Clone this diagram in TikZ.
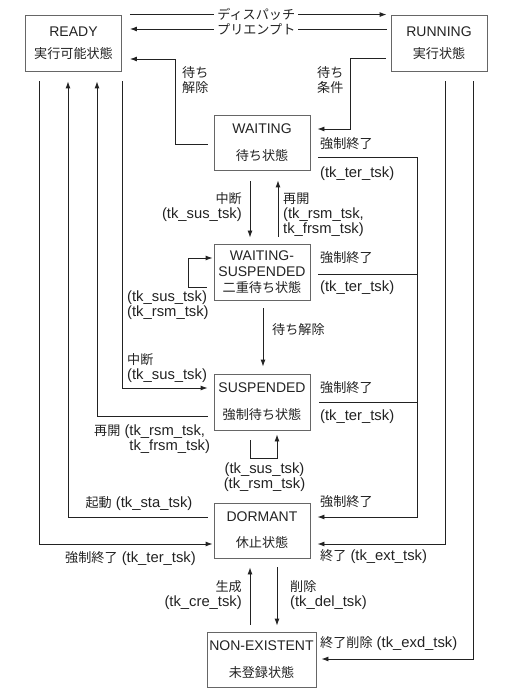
\documentclass[tikz,border=0pt]{standalone}
\usepackage{fontspec}
\setmainfont{Liberation Sans}
\newfontfamily\jpfont{Noto Sans CJK JP}
\usetikzlibrary{arrows.meta}
\newcommand\jt[1]{{\jpfont\fontsize{13.1}{15}\selectfont #1}}
\definecolor{boxgray}{HTML}{666666}
\definecolor{lncol}{HTML}{222222}
\definecolor{txt}{HTML}{222222}

\begin{document}
\begin{tikzpicture}[x=1pt,y=-1pt,
  font=\fontsize{14.8}{15}\selectfont,
  state/.style={draw=boxgray, line width=0.9pt, minimum width=96pt,
    minimum height=56pt, align=center, inner sep=0pt, text=txt,
    font=\fontsize{14}{15}\selectfont},
  ln/.style={draw=lncol, line width=0.9pt},
  arr/.style={ln, -{Latex[length=7pt,width=5pt]}},
  lab/.style={text=txt, inner sep=0pt, align=left},
  labr/.style={text=txt, inner sep=0pt, align=right},
  onln/.style={text=txt, fill=white, inner xsep=3pt, inner ysep=0pt},
]
\useasboundingbox (0,0) rectangle (521,700);

% ---- states ----
\node[state] (ready)   at (73.5,43)  {READY\\[7pt]\jt{実行可能状態}};
\node[state] (running) at (439,43)   {RUNNING\\[7pt]\jt{実行状態}};
\node[state, minimum height=55pt] (waiting) at (262,142.5) {WAITING\\[12pt]\jt{待ち状態}};
\node[state] (wsusp)   at (262,272)  {WAITING-\\[1pt]SUSPENDED\\[1pt]\jt{二重待ち状態}};
\node[state] (susp)    at (262,402)  {SUSPENDED\\[12pt]\jt{強制待ち状態}};
\node[state, minimum height=55pt] (dormant) at (262,530.5) {DORMANT\\[11pt]\jt{休止状態}};
\node[state, minimum width=109pt, minimum height=55pt] (nonex) at (261.5,659.5) {NON-EXISTENT\\[12pt]\jt{未登録状態}};

% ---- READY <-> RUNNING ----
\draw[arr, shorten <=8pt, shorten >=4pt] (ready.north east) --
  node[onln] (lbdisp) {\jt{ディスパッチ}} (running.north west);
\draw[arr, shorten <=4pt, shorten >=8pt] (running.west |- 0,29) --
  node[onln] (lbpre) {\jt{プリエンプト}} (ready.east |- 0,29);

% ---- WAITING -> READY, RUNNING -> WAITING ----
\draw[arr, shorten <=6pt, shorten >=8pt] (waiting.west |- 0,144) -- (175,144) -- (175,59) -- (ready.east |- 0,59);
\node[lab, anchor=west] (lbrel) at (182,80) {\jt{待ち}\\\jt{解除}};
\draw[arr, shorten <=5pt, shorten >=7pt] (running.west |- 0,58) -- (350,58) -- (350,129) -- (waiting.east |- 0,129);
\node[lab, anchor=west] (lbcond) at (317,80) {\jt{待ち}\\\jt{条件}};

% ---- WAITING <-> WAITING-SUSPENDED ----
\draw[arr, shorten <=11pt, shorten >=6pt] (waiting.south -| 250,0) -- (wsusp.north -| 250,0);
\draw[arr, shorten <=7pt, shorten >=10pt] (wsusp.north -| 278,0) -- (waiting.south -| 278,0);
\node[labr, anchor=east] (lbsus1) at (242,207.5) {\jt{中断}\\(tk\_sus\_tsk)};
\node[lab, anchor=west] (lbrsm1) at (283,215) {\jt{再開}\\(tk\_rsm\_tsk,\\tk\_frsm\_tsk)};

% ---- WAITING-SUSPENDED self loop ----
\draw[arr, shorten <=7pt, shorten >=1pt] (wsusp.west |- 0,287) -- (188,287) -- (188,258) -- (wsusp.west |- 0,258);
\node[lab, anchor=west] (lbloop1) at (127,305) {(tk\_sus\_tsk)\\(tk\_rsm\_tsk)};

% ---- WAITING-SUSPENDED -> SUSPENDED ----
\draw[arr, shorten <=8pt, shorten >=7pt] (wsusp.south -| 263,0) -- (susp.north -| 263,0);
\node[lab, anchor=west] (lbwrel) at (272,330) {\jt{待ち解除}};

% ---- SUSPENDED self loop ----
\draw[arr, shorten <=10pt, shorten >=4pt] (susp.south -| 250,0) -- (250,458) -- (277,458) -- (susp.south -| 277,0);
\node[text=txt, inner sep=0pt, align=center] (lbloop2) at (264.5,477.5) {(tk\_sus\_tsk)\\(tk\_rsm\_tsk)};

% ---- READY column connectors ----
\draw[arr, shorten <=10pt, shorten >=1pt] (ready.south -| 39,0) -- (39,544) -- (dormant.west |- 0,544);
\node[text=txt, inner sep=0pt] (lbter0) at (130.5,559) {\jt{強制終了} (tk\_ter\_tsk)};
\draw[arr, shorten <=6pt, shorten >=10pt] (dormant.west |- 0,517) -- (68,517) -- (ready.south -| 68,0);
\node[text=txt, inner sep=0pt] (lbsta) at (139,504) {\jt{起動} (tk\_sta\_tsk)};
\draw[arr, shorten <=6pt, shorten >=10pt] (susp.west |- 0,416) -- (97,416) -- (ready.south -| 97,0);
\node[lab, anchor=west] (lbrsm2) at (94,439.5) {\jt{再開} (tk\_rsm\_tsk,\\\phantom{\jt{再開} (}tk\_frsm\_tsk)};
\draw[arr, shorten <=10pt, shorten >=6pt] (ready.south -| 122,0) -- (122,388) -- (susp.west |- 0,388);
\node[lab, anchor=west] (lbsus2) at (127,368.5) {\jt{中断}\\(tk\_sus\_tsk)};

% ---- RUNNING column connectors ----
\draw[arr, shorten <=10pt, shorten >=7pt] (running.south -| 445,0) -- (445,544) -- (dormant.east |- 0,544);
\node[lab, anchor=west] (lbext) at (320,557) {\jt{終了} (tk\_ext\_tsk)};
\draw[arr, shorten <=10pt, shorten >=5pt] (running.south -| 473,0) -- (473,659) -- (nonex.east |- 0,659);
\node[lab, anchor=west] (lbexd) at (320,644) {\jt{終了削除} (tk\_exd\_tsk)};

% ---- forced termination bus ----
\draw[arr, shorten <=8pt, shorten >=7pt] (waiting.east |- 0,157) -- (417,157) -- (417,517) -- (dormant.east |- 0,517);
\draw[ln, shorten <=8pt] (wsusp.east |- 0,274) -- (417,274);
\draw[ln, shorten <=9pt] (susp.east |- 0,402) -- (417,402);
\node[lab, anchor=west] (lbt1a) at (320,144) {\jt{強制終了}};
\node[lab, anchor=west] (lbt1b) at (320,174) {(tk\_ter\_tsk)};
\node[lab, anchor=west] (lbt2a) at (320,258) {\jt{強制終了}};
\node[lab, anchor=west] (lbt2b) at (320,288) {(tk\_ter\_tsk)};
\node[lab, anchor=west] (lbt3a) at (320,388) {\jt{強制終了}};
\node[lab, anchor=west] (lbt3b) at (320,417) {(tk\_ter\_tsk)};
\node[lab, anchor=west] (lbt4a) at (320,502) {\jt{強制終了}};

% ---- DORMANT <-> NON-EXISTENT ----
\draw[arr, shorten <=7pt, shorten >=9pt] (nonex.north -| 250,0) -- (dormant.south -| 250,0);
\draw[arr, shorten <=9pt, shorten >=6pt] (dormant.south -| 277,0) -- (nonex.north -| 277,0);
\node[labr, anchor=east] (lbcre) at (242,595.5) {\jt{生成}\\(tk\_cre\_tsk)};
\node[lab, anchor=west] (lbdel) at (290,595.5) {\jt{削除}\\(tk\_del\_tsk)};
\end{tikzpicture}
\end{document}
